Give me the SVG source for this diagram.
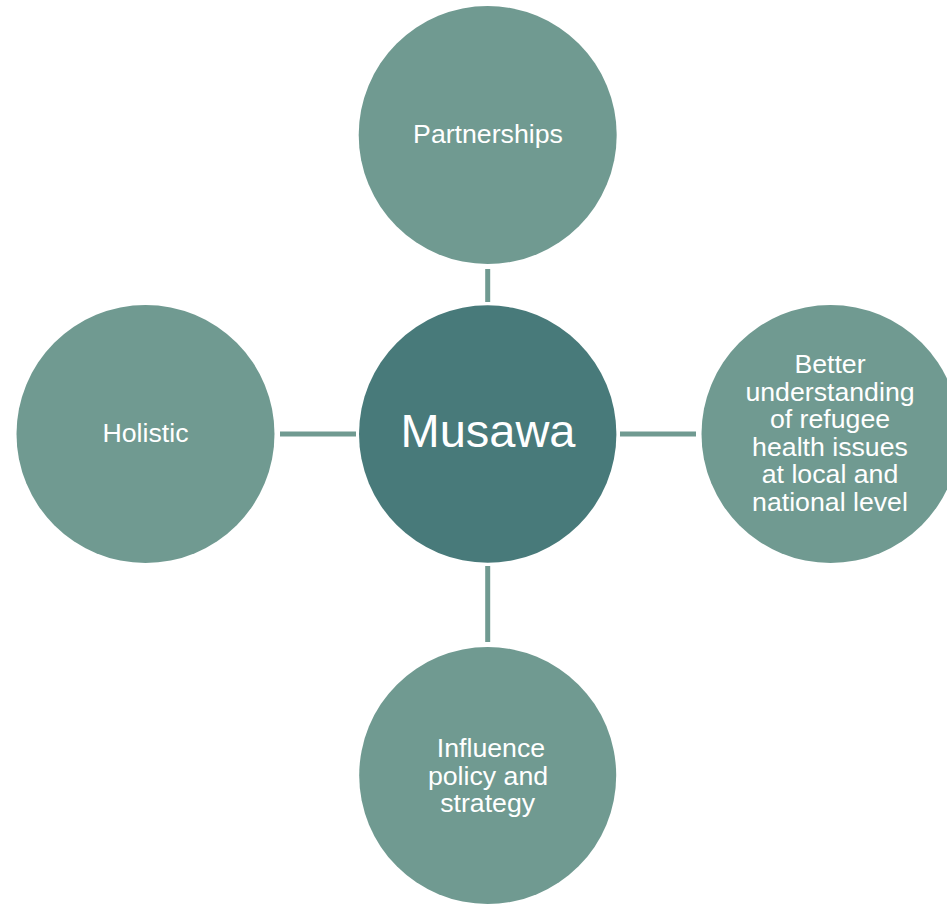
<svg xmlns="http://www.w3.org/2000/svg" width="947" height="904" viewBox="0 0 947 904">
<style>
.outer{fill:#709a91}
.center{fill:#487a7a}
.conn{stroke:#709a91;stroke-width:5;fill:none}
.t{font-family:"Liberation Sans",Arial,sans-serif;font-size:26.7px;fill:#ffffff;text-anchor:middle}
.tc{font-family:"Liberation Sans",Arial,sans-serif;font-size:47px;fill:#ffffff;text-anchor:middle}
</style>
<rect width="947" height="904" fill="#ffffff"/>
<g id="connectors">
<line class="conn" x1="487.7" y1="269" x2="487.7" y2="302"/>
<line class="conn" x1="280" y1="434" x2="356" y2="434"/>
<line class="conn" x1="620" y1="434" x2="696" y2="434"/>
<line class="conn" x1="487.7" y1="566" x2="487.7" y2="642"/>
</g>
<g id="musawa">
<circle class="center" cx="487.7" cy="434" r="128.7"/>
<text class="tc" x="488" y="447">Musawa</text>
</g>
<g id="partnerships">
<circle class="outer" cx="487.7" cy="135" r="129"/>
<text class="t" x="488" y="143">Partnerships</text>
</g>
<g id="holistic">
<circle class="outer" cx="145.5" cy="434" r="129"/>
<text class="t" x="145.5" y="442">Holistic</text>
</g>
<g id="better-understanding">
<circle class="outer" cx="830.5" cy="434" r="129"/>
<text class="t" x="830" y="373">Better</text>
<text class="t" x="830" y="400.5">understanding</text>
<text class="t" x="830" y="428">of refugee</text>
<text class="t" x="830" y="455.5">health issues</text>
<text class="t" x="830" y="483">at local and</text>
<text class="t" x="830" y="510.5">national level</text>
</g>
<g id="influence">
<circle class="outer" cx="487.7" cy="775.5" r="128.5"/>
<text class="t" x="491" y="757">Influence</text>
<text class="t" x="488" y="784.5">policy and</text>
<text class="t" x="487.7" y="812">strategy</text>
</g>
</svg>
